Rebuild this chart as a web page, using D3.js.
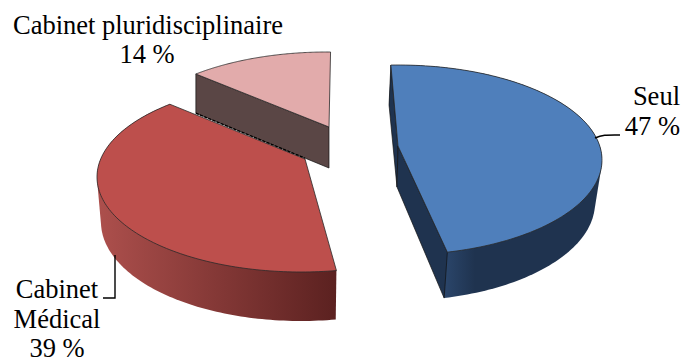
<!DOCTYPE html>
<html><head><meta charset="utf-8">
<style>html,body{margin:0;padding:0;background:#fff}svg{display:block}text{font-family:"Liberation Serif",serif;font-size:26.5px;fill:#000}</style>
<script src="https://cdn.jsdelivr.net/npm/d3@7"></script></head>
<body><svg id="c" width="681" height="363"></svg>
<script>
const categories = ["Seul", "Cabinet Médical", "Cabinet pluridisciplinaire"];
const shares = [47, 39, 14];
const labelLines = [["Seul", "47 %"], ["Cabinet", "Médical", "39 %"], ["Cabinet pluridisciplinaire", "14 %"]];

const W = 681, H = 363, RAD = Math.PI / 180;
const svg = d3.select("#c");
const defs = svg.append("defs");

// perspective: pie angle -> apparent angle on the tilted rim
const warp = d3.scaleLinear()
  .domain([0, 0.47, 0.86, 1].map(f => f * 2 * Math.PI))
  .range([-2, 166, 316, 357]);

const layout = [
  { top:{cx:398,cy:160,rx:204,ry:95}, bot:{cx:396,cy:203,rx:199,ry:98}, apexTop:[398,146], apexBot:[397,187], rot:0,
    face:"#4f7fbb", faces:[0,1], faceFill:"#1f334f", wall:[[444,"#2b466b"],[475,"#1f334f"],[600,"#1f334f"]], label:[[680,105],[680,135]], anchor:"end" },
  { top:{cx:301,cy:177,rx:204,ry:95}, bot:{cx:301,cy:222,rx:200,ry:99}, apexTop:[305,159], apexBot:[305,200], rot:4,
    face:"#bd4f4c", faces:[], faceFill:"#000", wall:[[100,"#ac4f4c"],[337,"#5b2120"]], label:[[57,298],[57,328],[57,357]], anchor:"middle" },
  { top:{cx:327,cy:146,rx:204,ry:94}, bot:{cx:327,cy:186,rx:204,ry:95}, apexTop:[329,127], apexBot:[329,168], rot:4,
    face:"#e2abab", faces:[0], faceFill:"#5a4645", wall:null, label:[[148,34],[147,63]], anchor:"middle" }
];

const pie = d3.pie().sort(null).value(d => d)(shares);
const rim = (e, deg) => [e.cx + e.rx * Math.sin(deg * RAD), e.cy - e.ry * Math.cos(deg * RAD)];
const line = d3.line();
const order = [2, 1, 0];

order.forEach(i => {
  const s = pie[i], L = layout[i];
  const a0 = warp(s.startAngle) + L.rot, a1 = warp(s.endAngle) + L.rot;
  const steps = d3.range(0, 121).map(k => a0 + (a1 - a0) * k / 120);
  const topRim = steps.map(a => rim(L.top, a));
  const botRim = steps.map(a => rim(L.bot, a));
  const g = svg.append("g");

  // outer wall
  if (L.wall) {
    const id = "wall" + i, xs = L.wall.map(d => d[0]);
    const gr = defs.append("linearGradient").attr("id", id).attr("gradientUnits", "userSpaceOnUse")
      .attr("x1", xs[0]).attr("x2", xs[xs.length - 1]).attr("y1", 0).attr("y2", 0);
    L.wall.forEach(d => gr.append("stop")
      .attr("offset", (d[0] - xs[0]) / (xs[xs.length - 1] - xs[0])).attr("stop-color", d[1]));
    g.append("path").attr("d", line(d3.polygonHull(topRim.concat(botRim))) + "Z")
      .attr("fill", `url(#${id})`);
  }

  // cut faces
  L.faces.forEach(f => {
    const a = f === 0 ? a0 : a1;
    g.append("path")
      .attr("d", line([L.apexTop, rim(L.top, a), rim(L.bot, a), L.apexBot]) + "Z")
      .attr("fill", L.faceFill).attr("stroke", "#111").attr("stroke-width", 0.7);
  });

  // top face
  g.append("path").attr("d", line([L.apexTop].concat(topRim)) + "Z")
    .attr("fill", L.face).attr("stroke", "#2a2a2a").attr("stroke-width", 0.8).attr("stroke-linejoin", "round");
});

// dashed edge of the small slice where it meets the large one
{
  const L = layout[2], s = pie[2];
  const p = rim(L.bot, warp(s.startAngle) + L.rot);
  const end = [305, L.apexBot[1] - (L.apexBot[0] - 305) * (L.apexBot[1] - p[1]) / (L.apexBot[0] - p[0])];
  svg.append("path").attr("d", line([p, end])).attr("fill", "none")
    .attr("stroke", "#000").attr("stroke-width", 1.3).attr("stroke-dasharray", "3,1.5");
}

// leader lines
svg.append("path").attr("d", "M595,138C603,134.5 608,135 620,135").attr("fill", "none").attr("stroke", "#000").attr("stroke-width", 1.4);
svg.append("path").attr("d", "M115,255V298H103").attr("fill", "none").attr("stroke", "#000").attr("stroke-width", 1.4);

// labels
labelLines.forEach((lines, i) => {
  lines.forEach((t, k) => {
    const [x, y] = layout[i].label[k];
    svg.append("text").attr("x", x).attr("y", y).attr("text-anchor", layout[i].anchor).text(t);
  });
});
</script></body></html>
